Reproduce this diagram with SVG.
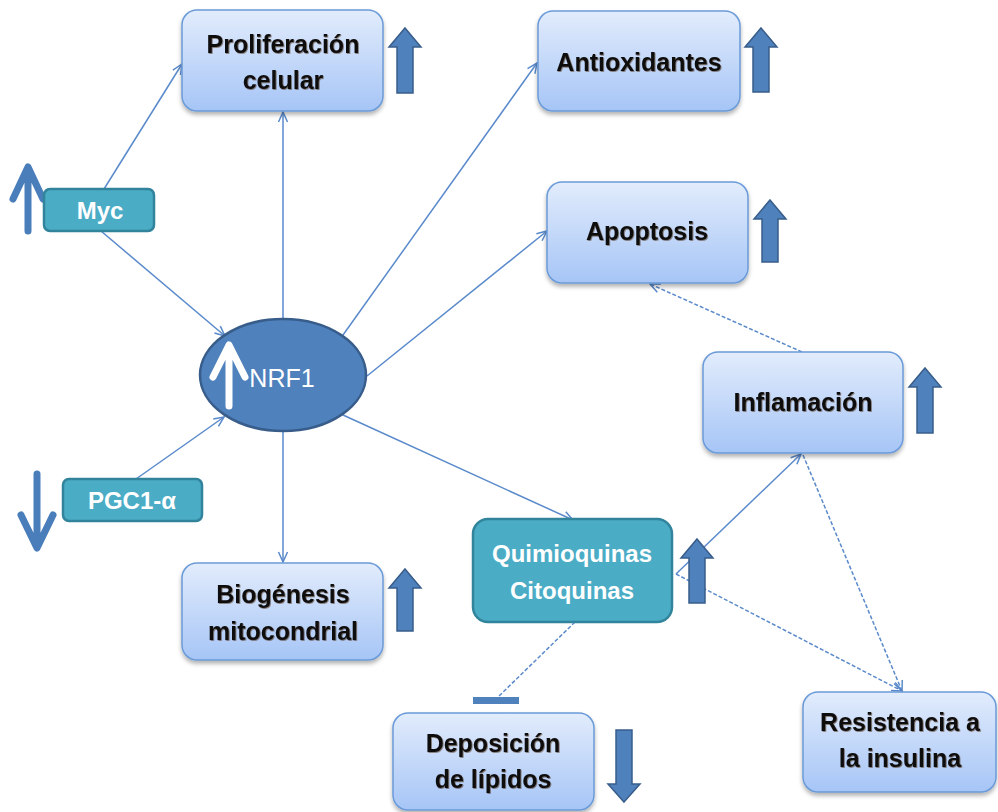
<svg xmlns="http://www.w3.org/2000/svg" width="998" height="812" viewBox="0 0 998 812">
  <defs>
    <linearGradient id="boxFill" x1="0" y1="0" x2="0" y2="1">
      <stop offset="0" stop-color="#e2ecfc"/>
      <stop offset="1" stop-color="#a6c5f6"/>
    </linearGradient>
    <filter id="shadow" x="-10%" y="-10%" width="125%" height="130%">
      <feDropShadow dx="0" dy="3" stdDeviation="2" flood-color="#000" flood-opacity="0.3"/>
    </filter>
    <filter id="txtShadow" x="-5%" y="-20%" width="110%" height="140%">
      <feDropShadow dx="0.8" dy="0.8" stdDeviation="0.6" flood-color="#3a1a00" flood-opacity="0.6"/>
    </filter>
    <marker id="open" viewBox="0 0 12 12" refX="11" refY="6" markerWidth="12" markerHeight="12" markerUnits="userSpaceOnUse" orient="auto">
      <path d="M1,1.5 L11,6 L1,10.5" fill="none" stroke="#5a8acb" stroke-width="1.5"/>
    </marker>
  </defs>
  <style>
    .box { fill: url(#boxFill); stroke: #6b9bd8; stroke-width: 1.5; filter: url(#shadow); }
    .teal { fill: #4bacc6; stroke: #31849b; stroke-width: 2.5; }
    .lbl { font-family: "Liberation Sans", Arial, sans-serif; font-weight: bold; font-size: 25px; fill: #111; text-anchor: middle; filter: url(#txtShadow); }
    .wlbl { font-family: "Liberation Sans", Arial, sans-serif; font-weight: bold; font-size: 24px; fill: #fff; text-anchor: middle; }
    .blk { fill: #4f81bd; stroke: #385d8a; stroke-width: 1.5; }
    .conn { stroke: #5a8acb; stroke-width: 1.5; fill: none; marker-end: url(#open); }
    .dash { stroke-dasharray: 4 2; }
    .thick { stroke: #4a7ebb; stroke-width: 7; fill: none; stroke-linecap: round; stroke-linejoin: round; }
  </style>

  <rect width="998" height="812" fill="#ffffff"/>

  <!-- connectors -->
  <g id="connectors">
    <line class="conn" x1="104" y1="189" x2="182" y2="64"/>
    <line class="conn" x1="101" y1="231" x2="225" y2="336"/>
    <line class="conn" x1="283" y1="319" x2="283" y2="112"/>
    <line class="conn" x1="343" y1="335" x2="537" y2="63"/>
    <line class="conn" x1="367" y1="376" x2="547" y2="231"/>
    <line class="conn" x1="343" y1="415" x2="573" y2="520"/>
    <line class="conn" x1="283" y1="432" x2="283" y2="562"/>
    <line class="conn" x1="136" y1="479" x2="224" y2="417"/>
    <line class="conn" x1="676" y1="574" x2="801" y2="454"/>
    <line class="conn dash" x1="802" y1="352" x2="650" y2="284"/>
    <line class="conn dash" x1="803" y1="455" x2="902" y2="691"/>
    <line class="conn dash" x1="676" y1="574" x2="902" y2="691"/>
    <line x1="575" y1="622" x2="498" y2="697" stroke="#5a8acb" stroke-width="1.5" stroke-dasharray="4 2"/>
    <rect x="473" y="697" width="46" height="7" fill="#4f81bd"/>
  </g>

  <!-- NRF1 -->
  <g id="nrf1">
    <ellipse cx="283" cy="375" rx="83" ry="56" fill="#4f81bd" stroke="#385d8a" stroke-width="2.5"/>
    <path d="M229,406 V346 M213,377 L229,345 L245,377" stroke="#fff" stroke-width="7" fill="none" stroke-linecap="round" stroke-linejoin="round"/>
    <text x="282" y="387" font-family="Liberation Sans, Arial, sans-serif" font-size="25" fill="#fff" text-anchor="middle">NRF1</text>
  </g>

  <!-- Myc -->
  <g id="myc">
    <path class="thick" d="M28,231 V168 M13,199 L28,167 L43,199"/>
    <rect class="teal" x="44" y="189" width="110" height="42" rx="6"/>
    <text class="wlbl" x="100" y="219">Myc</text>
  </g>

  <!-- PGC1-alpha -->
  <g id="pgc1a">
    <path class="thick" d="M37,474 V547 M21,515 L37,548 L53,515"/>
    <rect class="teal" x="63" y="479" width="139" height="42" rx="6"/>
    <text class="wlbl" x="132" y="509">PGC1-α</text>
  </g>

  <!-- Proliferación celular -->
  <g id="proliferacion">
    <rect class="box" x="182" y="10" width="201" height="101" rx="15"/>
    <text class="lbl" x="283" y="53">Proliferación</text>
    <text class="lbl" x="283" y="89">celular</text>
    <path class="blk" d="M405,28 L421,47 L413,47 L413,93 L397,93 L397,47 L389,47 Z"/>
  </g>

  <!-- Antioxidantes -->
  <g id="antioxidantes">
    <rect class="box" x="538" y="11" width="202" height="100" rx="15"/>
    <text class="lbl" x="639" y="71">Antioxidantes</text>
    <path class="blk" d="M761,28 L777,47 L769,47 L769,92 L753,92 L753,47 L745,47 Z"/>
  </g>

  <!-- Apoptosis -->
  <g id="apoptosis">
    <rect class="box" x="547" y="182" width="201" height="101" rx="15"/>
    <text class="lbl" x="647" y="240">Apoptosis</text>
    <path class="blk" d="M770,200 L786,219 L778,219 L778,262 L762,262 L762,219 L754,219 Z"/>
  </g>

  <!-- Inflamación -->
  <g id="inflamacion">
    <rect class="box" x="703" y="352" width="200" height="101" rx="15"/>
    <text class="lbl" x="803" y="411">Inflamación</text>
    <path class="blk" d="M925,368 L941,387 L933,387 L933,433 L917,433 L917,387 L909,387 Z"/>
  </g>

  <!-- Quimioquinas / Citoquinas -->
  <g id="quimioquinas">
    <rect class="teal" x="473" y="519" width="199" height="103" rx="15"/>
    <text class="wlbl" x="572" y="562" font-size="25">Quimioquinas</text>
    <text class="wlbl" x="572" y="599" font-size="25">Citoquinas</text>
    <path class="blk" d="M697,539 L713,558 L705,558 L705,603 L689,603 L689,558 L681,558 Z"/>
  </g>

  <!-- Biogénesis mitocondrial -->
  <g id="biogenesis">
    <rect class="box" x="182" y="563" width="201" height="97" rx="15"/>
    <text class="lbl" x="283" y="603">Biogénesis</text>
    <text class="lbl" x="283" y="640">mitocondrial</text>
    <path class="blk" d="M405,569 L421,588 L413,588 L413,631 L397,631 L397,588 L389,588 Z"/>
  </g>

  <!-- Deposición de lípidos -->
  <g id="deposicion">
    <rect class="box" x="393" y="713" width="201" height="97" rx="15"/>
    <text class="lbl" x="493" y="752">Deposición</text>
    <text class="lbl" x="493" y="788">de lípidos</text>
    <path class="blk" d="M624,802 L640,784 L632,784 L632,730 L616,730 L616,784 L608,784 Z"/>
  </g>

  <!-- Resistencia a la insulina -->
  <g id="resistencia">
    <rect class="box" x="803" y="692" width="193" height="100" rx="15"/>
    <text class="lbl" x="900" y="731">Resistencia a</text>
    <text class="lbl" x="900" y="767">la insulina</text>
  </g>
</svg>
